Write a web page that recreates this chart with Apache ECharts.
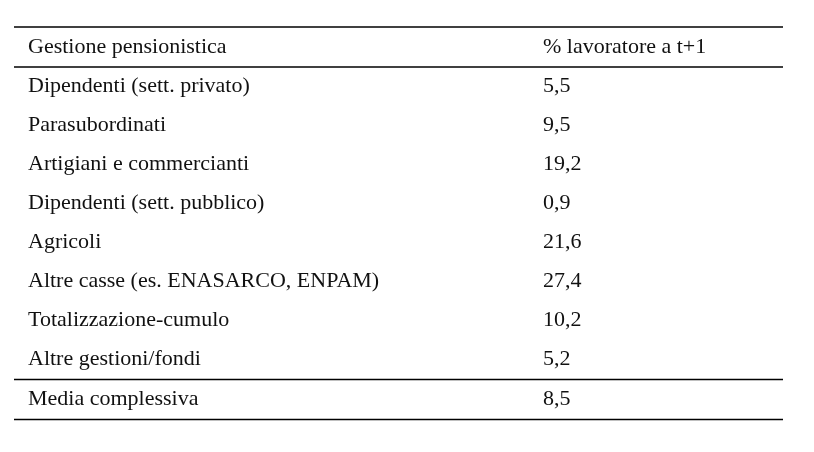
<!DOCTYPE html>
<html><head><meta charset="utf-8">
<script src="https://cdn.jsdelivr.net/npm/echarts@6/dist/echarts.min.js"></script>
<style>html,body{margin:0;padding:0;background:#fff}#c{width:814px;height:452px}</style>
</head><body><div id="c"></div>
<script>
var headers = ['Gestione pensionistica', '% lavoratore a t+1'];
var categories = ['Dipendenti (sett. privato)','Parasubordinati','Artigiani e commercianti','Dipendenti (sett. pubblico)','Agricoli','Altre casse (es. ENASARCO, ENPAM)','Totalizzazione-cumulo','Altre gestioni/fondi'];
var values = [5.5, 9.5, 19.2, 0.9, 21.6, 27.4, 10.2, 5.2];
var totalLabel = 'Media complessiva';
var totalValue = 8.5;

(function(){
function fmt(v){ return v.toFixed(1).replace('.', ','); }
var font = '22px "Liberation Serif", "Times New Roman", serif';
var L = 14, R = 783, c1 = 28, c2 = 543;
var tableTop = 27, headBot = 67, rowH = 39;
var els = [];
function txt(x, y, s){ els.push({type:'text', x:x, y:y, style:{text:s, font:font, fill:'#111', verticalAlign:'middle', textVerticalAlign:'middle'}}); }
function line(y, w){ els.push({type:'line', shape:{x1:L, y1:y, x2:R, y2:y}, style:{stroke:'#000', lineWidth:w}}); }
line(tableTop, 1.5); line(headBot, 1.5);
txt(c1, 47, headers[0]); txt(c2, 47, headers[1]);
categories.forEach(function(c, i){
  var y = headBot + rowH * i + rowH/2;
  txt(c1, y, c); txt(c2, y, fmt(values[i]));
});
var sepY = headBot + rowH * categories.length + 0.5;
line(sepY, 1.5);
txt(c1, sepY + 20, totalLabel); txt(c2, sepY + 20, fmt(totalValue));
line(sepY + 40, 1.5);
var chart = echarts.init(document.getElementById('c'));
chart.setOption({animation:false, graphic:{elements:els}});
})();
</script></body></html>
